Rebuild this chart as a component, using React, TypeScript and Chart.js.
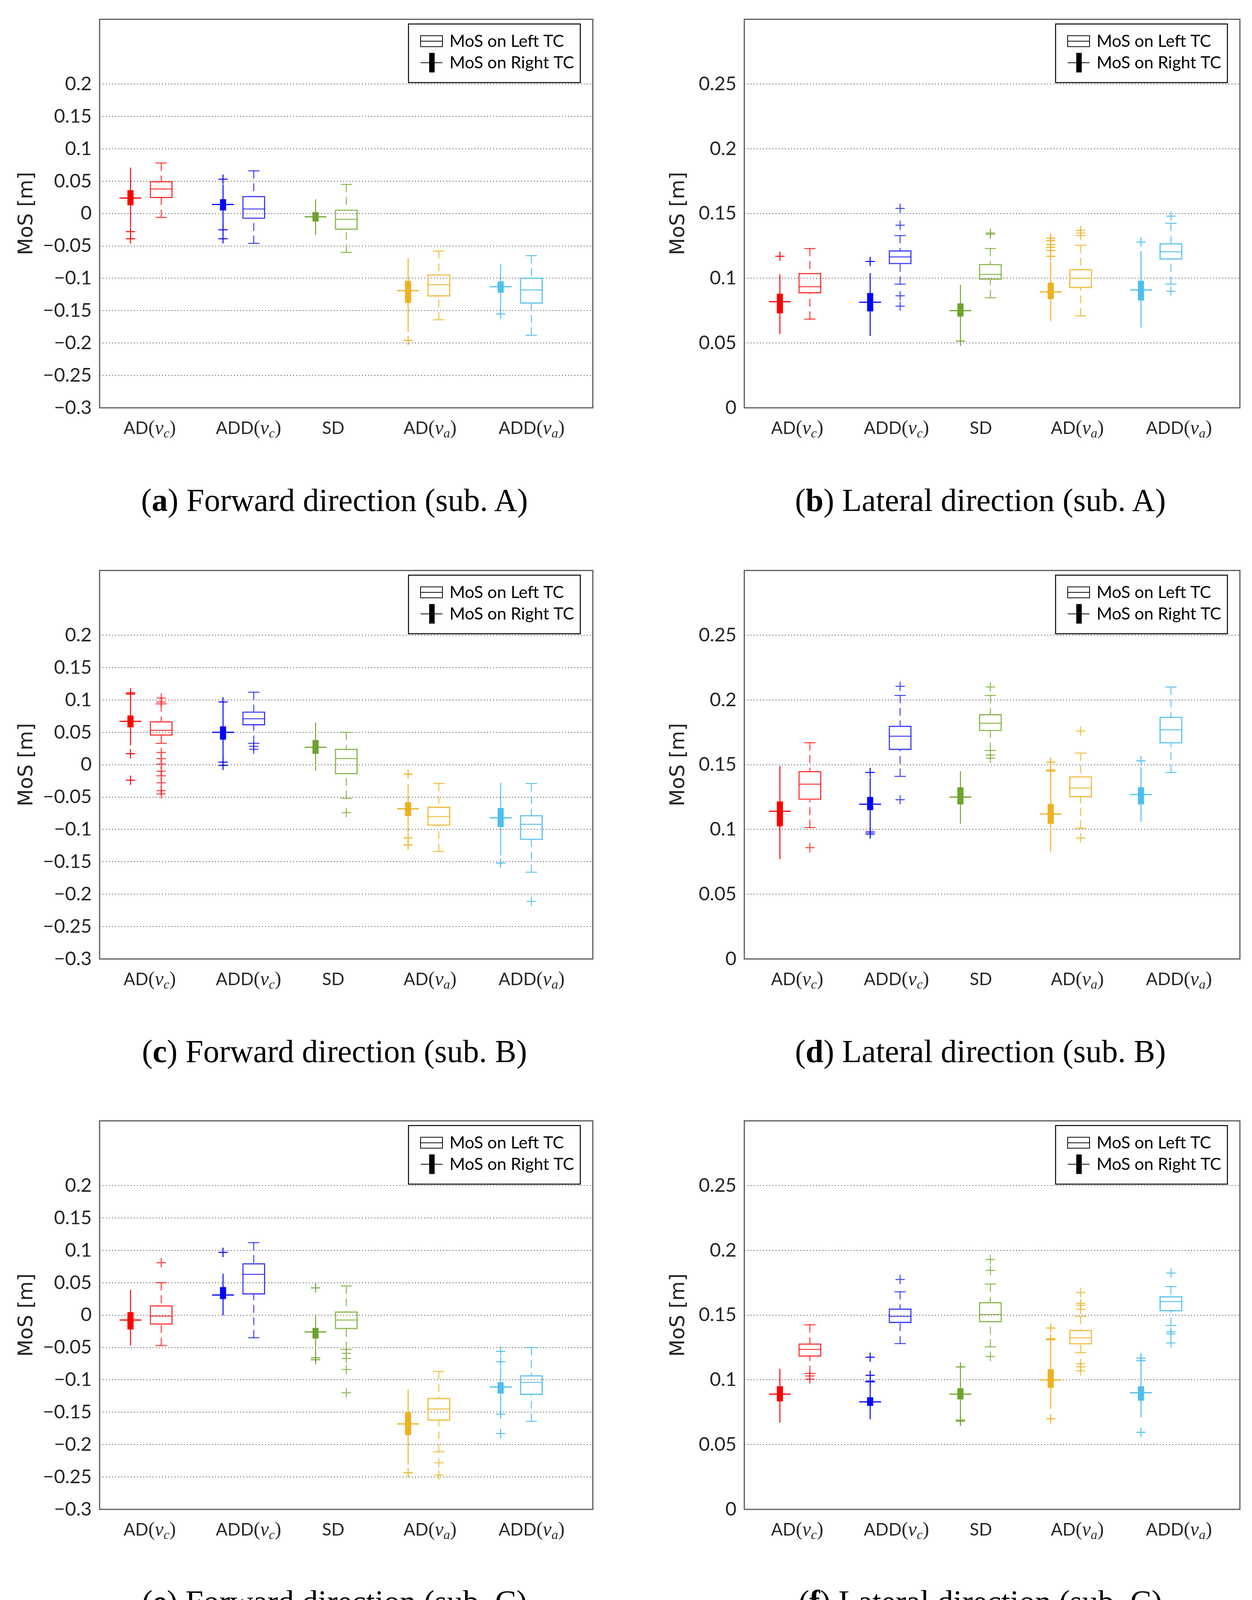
import React, { useEffect, useRef } from "react";
import { Chart, registerables } from "chart.js";

Chart.register(...registerables);

// ---------------- data ----------------
const categories = ["AD(v_c)", "ADD(v_c)", "SD", "AD(v_a)", "ADD(v_a)"];
const seriesLabels = ["MoS on Left TC", "MoS on Right TC"];
const yAxisTitle = "MoS [m]";
const forwardTicks = [-0.3, -0.25, -0.2, -0.15, -0.1, -0.05, 0, 0.05, 0.1, 0.15, 0.2];
const lateralTicks = [0, 0.05, 0.1, 0.15, 0.2, 0.25];

// each box: [lower whisker, Q1, median, Q3, upper whisker]
// (a) Forward direction (sub. A)
const aRightBox = [
  [-0.02, 0.013, 0.024, 0.036, 0.071],
  [-0.022, 0.005, 0.014, 0.022, 0.045],
  [-0.033, -0.012, -0.005, 0.002, 0.022],
  [-0.183, -0.138, -0.119, -0.104, -0.069],
  [-0.148, -0.122, -0.113, -0.105, -0.078],
];
const aRightOut = [[-0.028, -0.039], [0.053, -0.025, -0.039], [], [-0.196], [-0.155]];
const aLeftBox = [
  [-0.006, 0.024, 0.038, 0.05, 0.078],
  [-0.046, -0.008, 0.007, 0.027, 0.066],
  [-0.06, -0.025, -0.009, 0.006, 0.045],
  [-0.164, -0.128, -0.11, -0.094, -0.058],
  [-0.188, -0.139, -0.118, -0.099, -0.065],
];
const aLeftOut = [[], [], [], [], []];

// (b) Lateral direction (sub. A)
const bRightBox = [
  [0.057, 0.073, 0.082, 0.088, 0.103],
  [0.0555, 0.0745, 0.0815, 0.0885, 0.104],
  [0.0545, 0.0705, 0.075, 0.0805, 0.095],
  [0.067, 0.084, 0.0895, 0.0965, 0.113],
  [0.062, 0.083, 0.091, 0.098, 0.121],
];
const bRightOut = [[0.117], [0.113], [0.0515], [0.117, 0.1215, 0.124, 0.126, 0.129, 0.131], [0.128]];
const bLeftBox = [
  [0.0685, 0.0885, 0.0935, 0.104, 0.123],
  [0.0955, 0.111, 0.1165, 0.1215, 0.133],
  [0.085, 0.099, 0.103, 0.111, 0.123],
  [0.071, 0.0925, 0.1, 0.107, 0.1255],
  [0.0955, 0.1145, 0.1205, 0.127, 0.1425],
];
const bLeftOut = [[], [0.141, 0.154, 0.0865, 0.0785], [0.134, 0.135], [0.133, 0.135, 0.137], [0.148, 0.09]];

// (c) Forward direction (sub. B)
const cRightBox = [
  [0.03, 0.058, 0.067, 0.076, 0.104],
  [0.008, 0.039, 0.05, 0.059, 0.09],
  [-0.009, 0.017, 0.027, 0.038, 0.065],
  [-0.105, -0.079, -0.068, -0.058, -0.03],
  [-0.14, -0.096, -0.082, -0.067, -0.028],
];
const cRightOut = [[0.109, 0.111, 0.017, -0.024], [0.097, 0.004, -0.001], [], [-0.0145, -0.113, -0.124], [-0.152]];
const cLeftBox = [
  [0.033, 0.045, 0.053, 0.067, 0.094],
  [0.033, 0.061, 0.071, 0.082, 0.112],
  [-0.052, -0.0145, 0.0095, 0.0245, 0.05],
  [-0.134, -0.094, -0.08, -0.065, -0.029],
  [-0.166, -0.116, -0.092, -0.078, -0.029],
];
const cLeftOut = [
  [0.097, 0.103, 0.019, 0.0095, 0.001, -0.01, -0.017, -0.028, -0.04, -0.045],
  [0.0285, 0.024],
  [-0.074],
  [],
  [-0.211],
];

// (d) Lateral direction (sub. B)
const dRightBox = [
  [0.077, 0.1025, 0.114, 0.1215, 0.149],
  [0.1015, 0.115, 0.1195, 0.125, 0.14],
  [0.1045, 0.1195, 0.125, 0.1325, 0.145],
  [0.083, 0.1045, 0.112, 0.1195, 0.143],
  [0.106, 0.1195, 0.127, 0.1325, 0.148],
];
const dRightOut = [[], [0.144, 0.098, 0.0965], [], [0.145, 0.146, 0.152], [0.153]];
const dLeftBox = [
  [0.1015, 0.123, 0.135, 0.145, 0.167],
  [0.141, 0.1615, 0.172, 0.18, 0.2035],
  [0.161, 0.176, 0.182, 0.189, 0.2035],
  [0.101, 0.125, 0.132, 0.141, 0.159],
  [0.144, 0.1665, 0.177, 0.187, 0.21],
];
const dLeftOut = [[0.086], [0.2105, 0.123], [0.21, 0.1575, 0.155], [0.176, 0.0935], []];

// (e) Forward direction (sub. C)
const eRightBox = [
  [-0.047, -0.022, -0.0075, 0.0045, 0.039],
  [-0.0005, 0.025, 0.031, 0.043, 0.064],
  [-0.06, -0.036, -0.026, -0.02, 0.001],
  [-0.231, -0.185, -0.168, -0.15, -0.115],
  [-0.149, -0.121, -0.111, -0.104, -0.08],
];
const eRightOut = [[], [0.097], [0.042, -0.066, -0.069], [-0.2435], [-0.056, -0.072, -0.153, -0.183]];
const eLeftBox = [
  [-0.047, -0.0145, -0.0015, 0.015, 0.05],
  [-0.035, 0.032, 0.063, 0.08, 0.112],
  [-0.053, -0.0215, -0.0075, 0.0055, 0.045],
  [-0.211, -0.163, -0.145, -0.128, -0.087],
  [-0.164, -0.123, -0.104, -0.093, -0.05],
];
const eLeftOut = [[0.081], [], [-0.059, -0.067, -0.084, -0.12], [-0.228, -0.247], []];

// (f) Lateral direction (sub. C)
const fRightBox = [
  [0.067, 0.0835, 0.089, 0.095, 0.1085],
  [0.0695, 0.08, 0.083, 0.0865, 0.096],
  [0.072, 0.085, 0.089, 0.0935, 0.107],
  [0.0775, 0.094, 0.1, 0.108, 0.128],
  [0.071, 0.084, 0.09, 0.095, 0.112],
];
const fRightOut = [[], [0.0985, 0.099, 0.1035, 0.1175], [0.11, 0.069, 0.068], [0.14, 0.1317, 0.131, 0.07], [0.1148, 0.1168, 0.0595]];
const fLeftBox = [
  [0.105, 0.118, 0.1235, 0.128, 0.1425],
  [0.128, 0.144, 0.149, 0.155, 0.168],
  [0.1255, 0.1445, 0.1505, 0.16, 0.174],
  [0.121, 0.1275, 0.1325, 0.1385, 0.149],
  [0.142, 0.153, 0.1605, 0.1645, 0.172],
];
const fLeftOut = [
  [0.103, 0.1005],
  [0.1775],
  [0.193, 0.1845, 0.118],
  [0.1545, 0.1575, 0.159, 0.1675, 0.1125, 0.11, 0.107],
  [0.1825, 0.137, 0.1355, 0.1285],
];

// (g) Forward direction (sub. D)
const gRightBox = [
  [0.0235, 0.046, 0.0545, 0.064, 0.0885],
  [0.023, 0.052, 0.063, 0.071, 0.0975],
  [-0.037, -0.0175, -0.01, -0.001, 0.018],
  [-0.142, -0.116, -0.108, -0.098, -0.075],
  [-0.113, -0.091, -0.083, -0.076, -0.053],
];
const gRightOut = [[], [0.0065], [], [-0.147, -0.151], [-0.117, -0.128]];
const gLeftBox = [
  [0.0315, 0.0455, 0.054, 0.061, 0.081],
  [-0.0255, 0.004, 0.019, 0.028, 0.0585],
  [-0.095, -0.0665, -0.0545, -0.042, -0.0085],
  [-0.158, -0.127, -0.111, -0.1005, -0.079],
  [-0.165, -0.15, -0.137, -0.125, -0.095],
];
const gLeftOut = [
  [0.021, 0.005],
  [0.072, 0.076, 0.079, -0.035, -0.039, -0.045, -0.049, -0.065],
  [],
  [],
  [-0.182, -0.186, -0.19, -0.198],
];

// (h) Lateral direction (sub. D)
const hRightBox = [
  [0.086, 0.1015, 0.1075, 0.113, 0.126],
  [0.0665, 0.0795, 0.084, 0.089, 0.104],
  [0.063, 0.0775, 0.0815, 0.086, 0.1],
  [0.079, 0.1, 0.107, 0.114, 0.1305],
  [0.061, 0.0785, 0.0835, 0.09, 0.1035],
];
const hRightOut = [[0.082], [0.111, 0.112, 0.061], [], [0.075, 0.066], []];
const hLeftBox = [
  [0.12, 0.135, 0.1415, 0.1475, 0.1605],
  [0.1225, 0.139, 0.1445, 0.151, 0.1675],
  [0.124, 0.1345, 0.141, 0.148, 0.166],
  [0.1255, 0.1385, 0.147, 0.1515, 0.17],
  [0.127, 0.141, 0.1475, 0.1545, 0.174],
];
const hLeftOut = [[], [], [0.168, 0.17], [], []];

// ---------------- styles ----------------
const filledColors = ["#ff0000", "#0000ff", "#6ea32c", "#edb120", "#4dbeee"];
const hollowColors = [
  "rgba(255,0,0,0.78)",
  "rgba(0,0,255,0.75)",
  "rgba(119,172,48,0.85)",
  "rgba(237,177,32,0.85)",
  "rgba(77,190,238,0.9)",
];

const ROW_TOP = [45, 1456, 2865, 4274];
const FRAME_H = 999;
const COL_LEFT = [
  [255, 255, 255, 267],
  [1906, 1906, 1906, 1916],
];
const FRAME_W = [1263, 1269];
const Y_AREA = 230;
const TOP_PAD = 45;
const X_AREA = 110;
const RIGHT_PAD = 15;
const BOX_OFF = 0.166;
const LABEL_SHIFT_FWD = [10, 26, 6, 17, 40];
const LABEL_SHIFT_LAT = [6, 29, 14, 30, 59];

type Panel = {
  letter: string;
  kind: "forward" | "lateral";
  row: number;
  col: number;
  caption: string;
  right: number[][];
  rightOut: number[][];
  left: number[][];
  leftOut: number[][];
};

const panels: Panel[] = [
  { letter: "a", kind: "forward", row: 0, col: 0, caption: "Forward direction (sub. A)", right: aRightBox, rightOut: aRightOut, left: aLeftBox, leftOut: aLeftOut },
  { letter: "b", kind: "lateral", row: 0, col: 1, caption: "Lateral direction (sub. A)", right: bRightBox, rightOut: bRightOut, left: bLeftBox, leftOut: bLeftOut },
  { letter: "c", kind: "forward", row: 1, col: 0, caption: "Forward direction (sub. B)", right: cRightBox, rightOut: cRightOut, left: cLeftBox, leftOut: cLeftOut },
  { letter: "d", kind: "lateral", row: 1, col: 1, caption: "Lateral direction (sub. B)", right: dRightBox, rightOut: dRightOut, left: dLeftBox, leftOut: dLeftOut },
  { letter: "e", kind: "forward", row: 2, col: 0, caption: "Forward direction (sub. C)", right: eRightBox, rightOut: eRightOut, left: eLeftBox, leftOut: eLeftOut },
  { letter: "f", kind: "lateral", row: 2, col: 1, caption: "Lateral direction (sub. C)", right: fRightBox, rightOut: fRightOut, left: fLeftBox, leftOut: fLeftOut },
  { letter: "g", kind: "forward", row: 3, col: 0, caption: "Forward direction (sub. D)", right: gRightBox, rightOut: gRightOut, left: gLeftBox, leftOut: gLeftOut },
  { letter: "h", kind: "lateral", row: 3, col: 1, caption: "Lateral direction (sub. D)", right: hRightBox, rightOut: hRightOut, left: hLeftBox, leftOut: hLeftOut },
];

function fmtTick(v: number): string {
  const r = Math.round(v * 1000) / 1000;
  if (r === 0) return "0";
  return (r < 0 ? "\u2212" : "") + String(Math.abs(r));
}

function line(ctx: CanvasRenderingContext2D, x1: number, y1: number, x2: number, y2: number) {
  ctx.beginPath();
  ctx.moveTo(x1, y1);
  ctx.lineTo(x2, y2);
  ctx.stroke();
}

function buildConfig(p: Panel): any {
  const fwd = p.kind === "forward";
  const ticksArr = fwd ? forwardTicks : lateralTicks;
  const yMin = ticksArr[0];
  const yMax = 0.3;
  const xMin = fwd ? 0.5 : 0.44;
  const xMax = fwd ? 5.83 : 5.93;
  const shifts = fwd ? LABEL_SHIFT_FWD : LABEL_SHIFT_LAT;
  const titleOffset = fwd ? 185 : 167;

  const rightData = p.right.map((s, i) => ({ x: i + 1 - BOX_OFF, y: [s[1], s[3]] }));
  const leftData = p.left.map((s, i) => ({ x: i + 1 + BOX_OFF, y: [s[1], s[3]] }));
  const rightOutPts: any[] = [];
  p.rightOut.forEach((arr, i) => arr.forEach((v) => rightOutPts.push({ x: i + 1 - BOX_OFF, y: v, c: i })));
  const leftOutPts: any[] = [];
  p.leftOut.forEach((arr, i) => arr.forEach((v) => leftOutPts.push({ x: i + 1 + BOX_OFF, y: v, c: i })));

  const framePlugin = {
    id: "frame",
    beforeDatasetsDraw(chart: any) {
      const { ctx, chartArea: a } = chart;
      ctx.save();
      ctx.strokeStyle = "#5a5a5a";
      ctx.lineWidth = 3;
      ctx.strokeRect(a.left, a.top, a.right - a.left, a.bottom - a.top);
      ctx.restore();
    },
  };

  const boxPlugin = {
    id: "boxParts",
    afterDatasetsDraw(chart: any) {
      const ctx: CanvasRenderingContext2D = chart.ctx;
      const xs = chart.scales.x;
      const ys = chart.scales.y;
      chart.data.datasets.forEach((ds: any) => {
        if (!ds.boxStats) return;
        ds.boxStats.forEach((s: number[], i: number) => {
          const x = xs.getPixelForValue(ds.data[i].x);
          const [lo, q1, med, q3, hi] = s.map((v) => ys.getPixelForValue(v));
          ctx.save();
          ctx.lineCap = "butt";
          if (ds.boxStyle === "filled") {
            ctx.strokeStyle = filledColors[i];
            ctx.lineWidth = 2.5;
            line(ctx, x, hi, x, lo);
            ctx.lineWidth = 3;
            line(ctx, x - 28, med, x + 28, med);
          } else {
            ctx.strokeStyle = hollowColors[i];
            ctx.lineWidth = 2.5;
            ctx.setLineDash([20, 12]);
            line(ctx, x, hi, x, q3);
            line(ctx, x, lo, x, q1);
            ctx.setLineDash([]);
            line(ctx, x - 14.5, hi, x + 14.5, hi);
            line(ctx, x - 14.5, lo, x + 14.5, lo);
            line(ctx, x - 28, med, x + 28, med);
          }
          ctx.restore();
        });
      });
    },
  };

  const decorPlugin = {
    id: "decor",
    afterDraw(chart: any) {
      const ctx: CanvasRenderingContext2D = chart.ctx;
      const a = chart.chartArea;
      const xs = chart.scales.x;
      ctx.save();
      // legend
      const lw = 440;
      const lh = 150;
      const ll = a.right - 32 - lw;
      const lt = a.top + 12;
      ctx.fillStyle = "#ffffff";
      ctx.fillRect(ll, lt, lw, lh);
      ctx.strokeStyle = "#000000";
      ctx.lineWidth = 2.5;
      ctx.strokeRect(ll, lt, lw, lh);
      ctx.lineWidth = 2;
      ctx.strokeRect(ll + 31, lt + 30, 56, 28);
      line(ctx, ll + 31, lt + 44, ll + 87, lt + 44);
      line(ctx, ll + 31, lt + 99, ll + 87, lt + 99);
      ctx.fillStyle = "#000000";
      ctx.fillRect(ll + 53, lt + 74, 14, 50);
      ctx.font = '43px Lato, "Noto Sans", sans-serif';
      ctx.textBaseline = "middle";
      ctx.textAlign = "left";
      ctx.fillText(seriesLabels[0], ll + 105, lt + 45);
      ctx.fillText(seriesLabels[1], ll + 105, lt + 100);

      // y axis title
      ctx.save();
      ctx.translate(a.left - titleOffset, (a.top + a.bottom) / 2);
      ctx.rotate(-Math.PI / 2);
      ctx.font = '51px "DejaVu Sans", sans-serif';
      ctx.fillStyle = "#262626";
      ctx.textAlign = "center";
      ctx.textBaseline = "middle";
      ctx.fillText(yAxisTitle, 0, 0);
      ctx.restore();

      // x category labels
      const base = a.bottom + 67;
      ctx.textBaseline = "alphabetic";
      ctx.textAlign = "left";
      ctx.fillStyle = "#262626";
      const fMain = '44px Lato, "Noto Sans", sans-serif';
      const fParen = '50px "Liberation Serif", serif';
      const fV = 'italic 50px "Liberation Serif", serif';
      const fSub = 'italic 34px "Liberation Serif", serif';
      categories.forEach((cat, i) => {
        const m = /^(.*)\((\w)_(\w)\)$/.exec(cat);
        const cx = xs.getPixelForValue(i + 1) + shifts[i];
        const parts: [string, string, number][] = m
          ? [
              [m[1], fMain, 0],
              ["(", fParen, 0],
              [m[2], fV, 0],
              [m[3], fSub, 9],
              [")", fParen, 0],
            ]
          : [[cat, fMain, 0]];
        const widths = parts.map(([t, f]) => {
          ctx.font = f;
          return ctx.measureText(t).width;
        });
        const total = widths.reduce((s, w) => s + w, 0);
        let xPos = cx - total / 2;
        parts.forEach(([t, f, dy], k) => {
          ctx.font = f;
          ctx.fillText(t, xPos, base + dy);
          xPos += widths[k];
        });
      });
      ctx.restore();
    },
  };

  return {
    type: "bar",
    data: {
      datasets: [
        {
          type: "bar",
          label: seriesLabels[1],
          data: rightData,
          backgroundColor: filledColors,
          borderWidth: 0,
          barThickness: 15,
          grouped: false,
          boxStats: p.right,
          boxStyle: "filled",
        },
        {
          type: "bar",
          label: seriesLabels[0],
          data: leftData,
          backgroundColor: "rgba(0,0,0,0)",
          borderColor: hollowColors,
          borderWidth: 2.5,
          borderSkipped: false,
          barThickness: 58,
          grouped: false,
          boxStats: p.left,
          boxStyle: "hollow",
        },
        {
          type: "scatter",
          label: seriesLabels[1] + " outliers",
          data: rightOutPts,
          pointStyle: "cross",
          pointRadius: 12,
          borderWidth: 2.5,
          borderColor: rightOutPts.map((pt) => filledColors[pt.c]),
          backgroundColor: rightOutPts.map((pt) => filledColors[pt.c]),
        },
        {
          type: "scatter",
          label: seriesLabels[0] + " outliers",
          data: leftOutPts,
          pointStyle: "cross",
          pointRadius: 12,
          borderWidth: 2.5,
          borderColor: leftOutPts.map((pt) => hollowColors[pt.c]),
          backgroundColor: leftOutPts.map((pt) => hollowColors[pt.c]),
        },
      ],
    },
    options: {
      animation: false,
      responsive: false,
      events: [],
      layout: { padding: { left: 0, top: TOP_PAD, right: RIGHT_PAD, bottom: 0 } },
      plugins: { legend: { display: false }, tooltip: { enabled: false } },
      scales: {
        x: {
          type: "linear",
          min: xMin,
          max: xMax,
          offset: false,
          grid: { display: false, drawTicks: false, offset: false },
          border: { display: false },
          ticks: { display: false },
          afterFit: (s: any) => {
            s.height = X_AREA;
          },
        },
        y: {
          type: "linear",
          min: yMin,
          max: yMax,
          afterBuildTicks: (s: any) => {
            s.ticks = ticksArr.map((v) => ({ value: v }));
          },
          ticks: {
            font: { family: 'Lato, "Noto Sans", sans-serif', size: 49 },
            color: "#262626",
            padding: 20,
            autoSkip: false,
            callback: (v: any) => fmtTick(Number(v)),
          },
          grid: {
            drawTicks: false,
            lineWidth: 2,
            color: (ctx: any) =>
              ctx.tick && Math.abs(ctx.tick.value - yMin) < 1e-9 ? "rgba(0,0,0,0)" : "#3c3c3c",
          },
          border: { display: false, dash: [2, 6] },
          afterFit: (s: any) => {
            s.width = Y_AREA;
          },
        },
      },
    },
    plugins: [framePlugin, boxPlugin, decorPlugin],
  };
}

function BoxPanel({ p }: { p: Panel }) {
  const ref = useRef<HTMLCanvasElement>(null);
  const frameLeft = COL_LEFT[p.col][p.row];
  const frameTop = ROW_TOP[p.row];
  const fw = FRAME_W[p.col];
  const cw = Y_AREA + fw + RIGHT_PAD;
  const ch = TOP_PAD + FRAME_H + X_AREA;

  useEffect(() => {
    if (!ref.current) return;
    const chart = new Chart(ref.current, buildConfig(p));
    return () => chart.destroy();
  }, [p]);

  const capCenter = frameLeft + fw / 2 - 30;
  return (
    <>
      <canvas
        ref={ref}
        width={cw}
        height={ch}
        style={{
          position: "absolute",
          left: frameLeft - Y_AREA,
          top: frameTop - TOP_PAD,
          width: cw,
          height: ch,
          display: "block",
        }}
      />
      <div
        style={{
          position: "absolute",
          left: capCenter - 600,
          width: 1200,
          top: frameTop + FRAME_H + 196,
          textAlign: "center",
          fontFamily: '"Liberation Serif", "Times New Roman", serif',
          fontSize: 82,
          lineHeight: "82px",
          whiteSpace: "nowrap",
          color: "#000",
        }}
      >
        (<b>{p.letter}</b>) {p.caption}
      </div>
    </>
  );
}

export default function App() {
  return (
    <div
      style={{
        position: "absolute",
        left: 0,
        top: 0,
        width: 3206,
        height: 5591,
        overflow: "hidden",
        background: "#ffffff",
      }}
    >
      {panels.map((p) => (
        <BoxPanel key={p.letter} p={p} />
      ))}
    </div>
  );
}
